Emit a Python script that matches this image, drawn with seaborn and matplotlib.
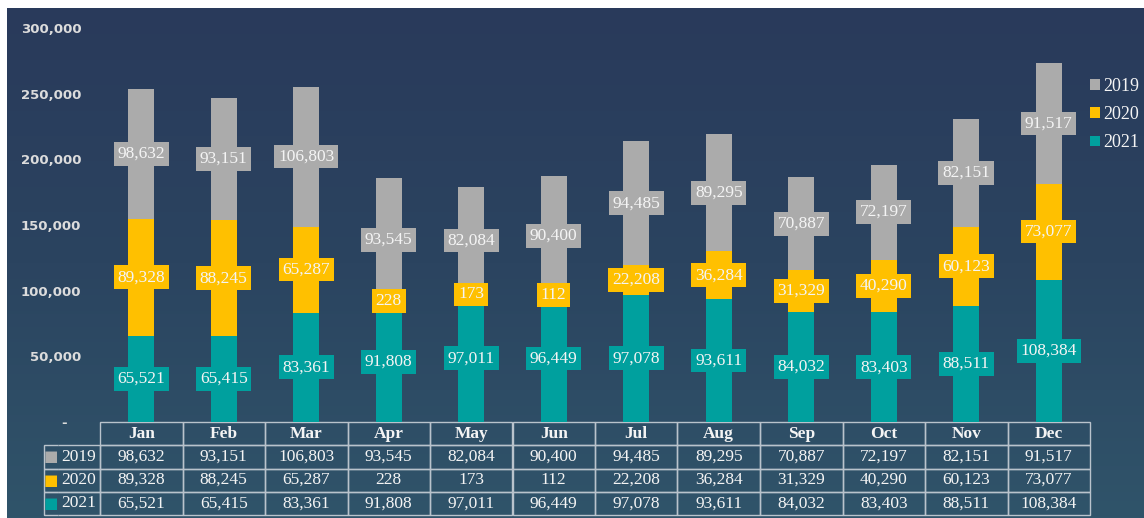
import numpy as np
import pandas as pd
import matplotlib
matplotlib.use("Agg")
import matplotlib.pyplot as plt
import seaborn as sns
from matplotlib.colors import LinearSegmentedColormap
from matplotlib.patches import Patch
from matplotlib.ticker import FuncFormatter

# --- データ ---
months = ["Jan", "Feb", "Mar", "Apr", "May", "Jun", "Jul", "Aug", "Sep", "Oct", "Nov", "Dec"]
years = ["2019", "2020", "2021"]
v2019 = [98632, 93151, 106803, 93545, 82084, 90400, 94485, 89295, 70887, 72197, 82151, 91517]
v2020 = [89328, 88245, 65287, 228, 173, 112, 22208, 36284, 31329, 40290, 60123, 73077]
v2021 = [65521, 65415, 83361, 91808, 97011, 96449, 97078, 93611, 84032, 83403, 88511, 108384]
yticks = [0, 50000, 100000, 150000, 200000, 250000, 300000]

colors = {"2019": "#ababab", "2020": "#ffc000", "2021": "#00a09e"}
txt_col = "#f4f4f4"
line_col = "#b9c3cc"

df = pd.DataFrame({"month": months, "2019": v2019, "2020": v2020, "2021": v2021})
df["low"] = df["2021"]
df["mid"] = df["2021"] + df["2020"]
df["top"] = df["mid"] + df["2019"]

sns.set_theme(style="white")
plt.rcParams["font.family"] = ["Liberation Serif", "DejaVu Sans"]

fig = plt.figure(figsize=(11.44, 5.18), dpi=100)
fig.patch.set_facecolor("white")

# 背景グラデーション
bg = fig.add_axes([7 / 1144, 0, 1 - 7 / 1144, 1 - 8 / 518])
cmap = LinearSegmentedColormap.from_list("bg", ["#293a5b", "#2b4460", "#30546a"])
bg.imshow(np.linspace(0, 1, 256).reshape(-1, 1), aspect="auto", cmap=cmap,
          extent=[0, 1, 0, 1], origin="upper")
bg.set_axis_off()

ax = fig.add_axes([100 / 1144, (518 - 422) / 518, 990 / 1144, 394 / 518])
ax.patch.set_alpha(0)

# 重ね描きで積み上げ棒
bw = 0.31
sns.barplot(data=df, x="month", y="top", color=colors["2019"], saturation=1, width=bw,
            errorbar=None, ax=ax, linewidth=0)
sns.barplot(data=df, x="month", y="mid", color=colors["2020"], saturation=1, width=bw,
            errorbar=None, ax=ax, linewidth=0)
sns.barplot(data=df, x="month", y="low", color=colors["2021"], saturation=1, width=bw,
            errorbar=None, ax=ax, linewidth=0)

# データラベル（各セグメント中央）
for i in range(len(months)):
    centers = {
        "2021": df["2021"][i] / 2,
        "2020": df["2021"][i] + df["2020"][i] / 2,
        "2019": df["mid"][i] + df["2019"][i] / 2,
    }
    for yr in years:
        ax.text(i, centers[yr], f"{df[yr][i]:,}", ha="center", va="center",
                fontsize=12.5, color=txt_col, zorder=5,
                bbox=dict(boxstyle="square,pad=0.22", fc=colors[yr], ec="none"))

ax.set_xlim(-0.5, 11.5)
ax.set_ylim(0, 300000)
ax.set_yticks(yticks)
ax.yaxis.set_major_formatter(FuncFormatter(lambda v, p: "-   " if v == 0 else f"{v:,.0f}"))
ax.tick_params(axis="y", length=0, pad=13.5, colors="#dcdcdc", labelsize=9.5)
plt.setp(ax.get_yticklabels(), fontfamily="DejaVu Sans", fontweight="bold")
ax.set_xticks([])
ax.set_xlabel("")
ax.set_ylabel("")
sns.despine(ax=ax, left=True, bottom=True)

# データテーブル
cell_text = []
for yr in years:
    cell_text.append(["■", yr] + [f"{v:,}" for v in df[yr]])
col_labels = ["", ""] + months
col_w = [14, 42] + [82.5] * 12
tb = ax.table(cellText=cell_text, colLabels=col_labels, colWidths=col_w,
              cellLoc="center", bbox=[-56 / 990, -93 / 394, 1 + 56 / 990, 93 / 394])
tb.auto_set_font_size(False)
tb.set_fontsize(12.5)
for (r, c), cell in tb.get_celld().items():
    cell.set_facecolor("none")
    cell.set_edgecolor(line_col)
    cell.set_linewidth(1)
    cell.get_text().set_color(txt_col)
    if r == 0 and c < 2:
        cell.visible_edges = "open"
    elif c == 0:
        cell.visible_edges = "LTB"
        cell.get_text().set_color(colors[years[r - 1]])
        cell.get_text().set_fontsize(11)
        cell.get_text().set_fontfamily("DejaVu Sans")
    elif c == 1:
        cell.visible_edges = "RTB"
    if r == 0 and c >= 2:
        cell.get_text().set_fontweight("bold")

# 凡例
handles = [Patch(facecolor=colors[yr], edgecolor="none", label=yr) for yr in years]
leg = fig.legend(handles=handles, loc="upper left", bbox_to_anchor=(1090 / 1144, 1 - 78 / 518),
                 frameon=False, fontsize=13, labelcolor=txt_col, handlelength=0.55,
                 handleheight=0.55, handletextpad=0.2, labelspacing=0.62, borderaxespad=0,
                 borderpad=0)

fig.savefig("out.png", dpi=100)
